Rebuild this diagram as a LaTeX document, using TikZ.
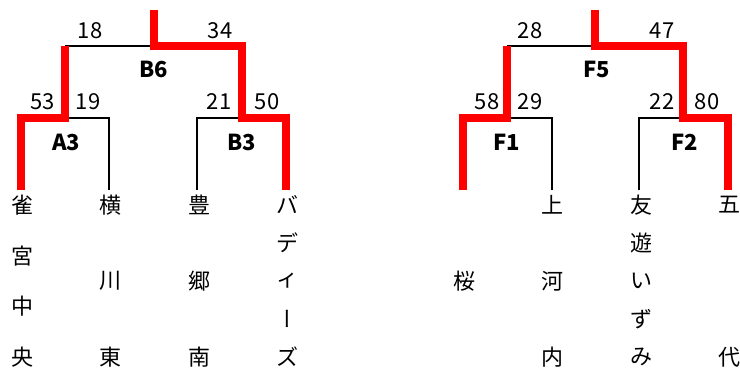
\documentclass[tikz,border=0pt]{standalone}
\usepackage{fontspec}
\newfontfamily\jpfont{Noto Sans CJK JP}
\newfontfamily\jpvert[RawFeature=+vert]{Noto Sans CJK JP}
\usetikzlibrary{calc}

\tikzset{
    loser/.style={black, line width=2.7pt},
    winner/.style={red, line width=7.3pt},
    score/.style={font=\jpfont\fontsize{22}{26}\selectfont, inner sep=0pt},
    match/.style={font=\jpfont\bfseries\fontsize{22}{26}\selectfont, inner sep=0pt},
    team/.style={font=\jpfont\fontsize{22}{26}\selectfont, inner sep=0pt},
}

% team name written top to bottom, spread over the column
\newcommand{\teamname}[4]{%
    \foreach \ch [count=\k] in {#4}{
        \pgfmathsetmacro{\ty}{#3==1 ? 281 : 205+(\k-1)*152/max(#3-1,1)}
        \node[team] (#1-\k) at (#2, \ty) {\ch};
    }}

\begin{document}
\begin{tikzpicture}[x=1pt, y=-1pt]
    \useasboundingbox (0,0) rectangle (740,369);

    % left bracket
    \coordinate (B6top) at (154,10);
    \coordinate (B6) at (154,46);
    \coordinate (A3) at (65,118);
    \coordinate (B3) at (242,118);
    \coordinate (s1) at (21,190);
    \coordinate (s2) at (109,190);
    \coordinate (s3) at (197,190);
    \coordinate (s4) at (286,190);

    \draw[loser] (s2) |- (A3);
    \draw[loser] (s3) |- (B3);
    \draw[loser] (A3 |- B6) -- (B6);
    \draw[winner] (s1) |- (A3) -- (A3 |- B6);
    \draw[winner] (B6top) -- (B6) -| (B3) -| (s4);

    \node[score] (B6l) at (90,31) {18};
    \node[score] (B6r) at (220,31) {34};
    \node[score] (A3l) at (43,102) {53};
    \node[score] (A3r) at (88,102) {19};
    \node[score] (B3l) at (219,102) {21};
    \node[score] (B3r) at (267,102) {50};
    \node[match] (B6name) at (154,69) {B6};
    \node[match] (A3name) at (66,142) {A3};
    \node[match] (B3name) at (242,142) {B3};

    \teamname{suzu}{22}{4}{雀,宮,中,央}
    \teamname{yoko}{110}{3}{横,川,東}
    \teamname{toyo}{199}{3}{豊,郷,南}
    \teamname{bud}{287}{5}{バ,デ,ィ,{\jpvert ー},ズ}

    % right bracket
    \begin{scope}[shift={(442,0)}]
    \coordinate (F5top) at (153,10);
    \coordinate (F5) at (153,46);
    \coordinate (F1) at (65,118);
    \coordinate (F2) at (241,118);
    \coordinate (r1) at (21,190);
    \coordinate (r2) at (110,190);
    \coordinate (r3) at (197,190);
    \coordinate (r4) at (286,190);

    \draw[loser] (r2) |- (F1);
    \draw[loser] (r3) |- (F2);
    \draw[loser] (F1 |- F5) -- (F5);
    \draw[winner] (r1) |- (F1) -- (F1 |- F5);
    \draw[winner] (F5top) -- (F5) -| (F2) -| (r4);

    \node[score] (F5l) at (88,31) {28};
    \node[score] (F5r) at (220,31) {47};
    \node[score] (F1l) at (45,102) {58};
    \node[score] (F1r) at (88,102) {29};
    \node[score] (F2l) at (220,102) {22};
    \node[score] (F2r) at (265,102) {80};
    \node[match] (F5name) at (155,69) {F5};
    \node[match] (F1name) at (65,142) {F1};
    \node[match] (F2name) at (243,142) {F2};

    \teamname{saku}{22}{1}{桜}
    \teamname{kami}{110}{3}{上,河,内}
    \teamname{yuu}{199}{5}{友,遊,い,ず,み}
    \teamname{goda}{287}{2}{五,代}
    \end{scope}
\end{tikzpicture}
\end{document}
